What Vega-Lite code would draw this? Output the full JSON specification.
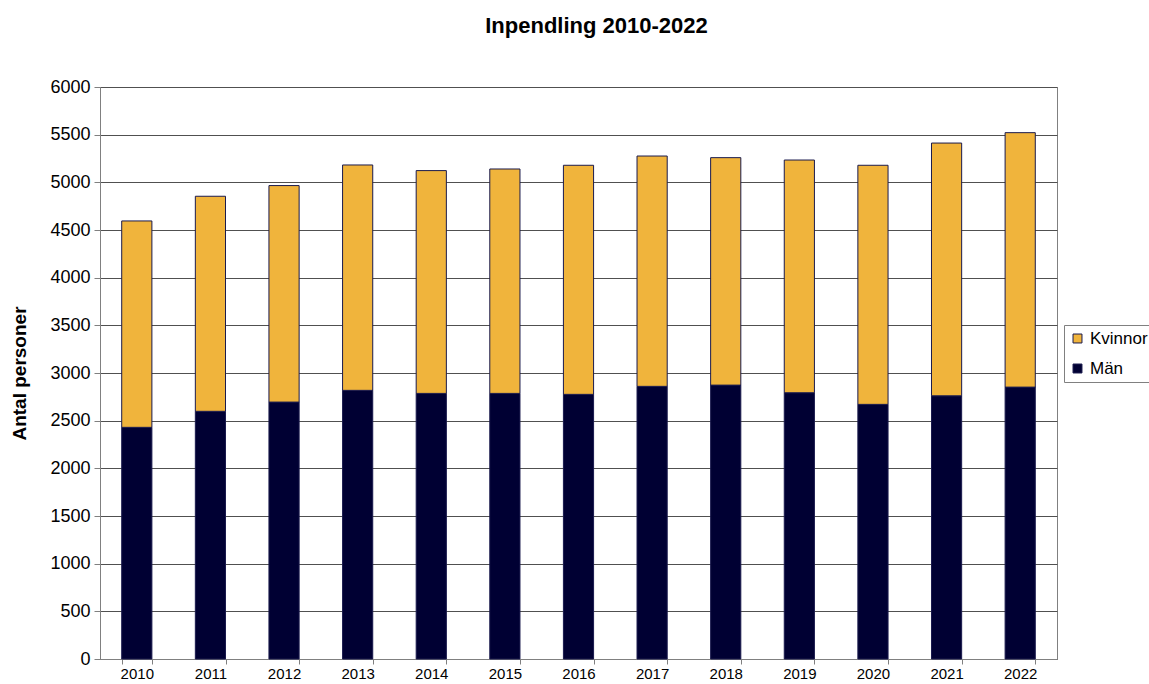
{
  "$schema": "https://vega.github.io/schema/vega-lite/v6.json",
  "width": 957,
  "height": 572,
  "autosize": {"type": "none"},
  "padding": {"left": 100, "top": 87, "right": 92, "bottom": 25},
  "background": "white",
  "title": {
    "text": "Inpendling 2010-2022",
    "font": "Liberation Sans",
    "fontSize": 22,
    "fontWeight": "bold",
    "color": "#000000",
    "anchor": "middle",
    "frame": "group",
    "dx": 18,
    "offset": 40
  },
  "config": {
    "font": "Liberation Sans",
    "view": {"stroke": "#808080", "strokeWidth": 1}
  },
  "data": {
    "values": [
      {"year": "2010", "serie": "Män", "antal": 2430},
      {"year": "2010", "serie": "Kvinnor", "antal": 2165},
      {"year": "2011", "serie": "Män", "antal": 2598},
      {"year": "2011", "serie": "Kvinnor", "antal": 2256},
      {"year": "2012", "serie": "Män", "antal": 2695},
      {"year": "2012", "serie": "Kvinnor", "antal": 2271},
      {"year": "2013", "serie": "Män", "antal": 2818},
      {"year": "2013", "serie": "Kvinnor", "antal": 2364},
      {"year": "2014", "serie": "Män", "antal": 2786},
      {"year": "2014", "serie": "Kvinnor", "antal": 2337},
      {"year": "2015", "serie": "Män", "antal": 2786},
      {"year": "2015", "serie": "Kvinnor", "antal": 2354},
      {"year": "2016", "serie": "Män", "antal": 2776},
      {"year": "2016", "serie": "Kvinnor", "antal": 2403},
      {"year": "2017", "serie": "Män", "antal": 2860},
      {"year": "2017", "serie": "Kvinnor", "antal": 2416},
      {"year": "2018", "serie": "Män", "antal": 2873},
      {"year": "2018", "serie": "Kvinnor", "antal": 2386},
      {"year": "2019", "serie": "Män", "antal": 2793},
      {"year": "2019", "serie": "Kvinnor", "antal": 2441},
      {"year": "2020", "serie": "Män", "antal": 2671},
      {"year": "2020", "serie": "Kvinnor", "antal": 2508},
      {"year": "2021", "serie": "Män", "antal": 2761},
      {"year": "2021", "serie": "Kvinnor", "antal": 2651},
      {"year": "2022", "serie": "Män", "antal": 2852},
      {"year": "2022", "serie": "Kvinnor", "antal": 2669}
    ]
  },
  "mark": {"type": "bar", "stroke": "#1a1a4d", "strokeWidth": 1},
  "encoding": {
    "x": {
      "field": "year",
      "type": "ordinal",
      "scale": {"paddingInner": 0.59, "paddingOuter": 0.295},
      "axis": {
        "title": null,
        "labelAngle": 0,
        "labelFontSize": 15,
        "labelColor": "#000000",
        "labelPadding": 2,
        "tickBand": "extent",
        "tickSize": 5,
        "tickColor": "#808080",
        "domainColor": "#808080",
        "grid": false
      }
    },
    "y": {
      "field": "antal",
      "type": "quantitative",
      "stack": "zero",
      "scale": {"domain": [0, 6000], "nice": false},
      "axis": {
        "title": "Antal personer",
        "titleFontSize": 19,
        "titleFontWeight": "bold",
        "titleColor": "#000000",
        "titlePadding": 20,
        "format": "d",
        "values": [0, 500, 1000, 1500, 2000, 2500, 3000, 3500, 4000, 4500, 5000, 5500, 6000],
        "labelFontSize": 18,
        "labelColor": "#000000",
        "labelPadding": 4,
        "tickSize": 6,
        "tickColor": "#808080",
        "domainColor": "#808080",
        "grid": true,
        "gridColor": "#505050",
        "gridWidth": 1
      }
    },
    "color": {
      "field": "serie",
      "type": "nominal",
      "scale": {"domain": ["Kvinnor", "Män"], "range": ["#F0B43C", "#000033"]},
      "legend": {
        "title": null,
        "orient": "none",
        "legendX": 964,
        "legendY": 238,
        "symbolType": "square",
        "symbolSize": 80,
        "symbolStrokeColor": "#1a1a4d",
        "symbolStrokeWidth": 1,
        "labelFontSize": 17,
        "labelColor": "#000000",
        "labelOffset": 4,
        "rowPadding": 12,
        "padding": 5,
        "strokeColor": "#808080",
        "fillColor": "#ffffff"
      }
    },
    "order": {"field": "serie", "sort": "descending"}
  }
}
